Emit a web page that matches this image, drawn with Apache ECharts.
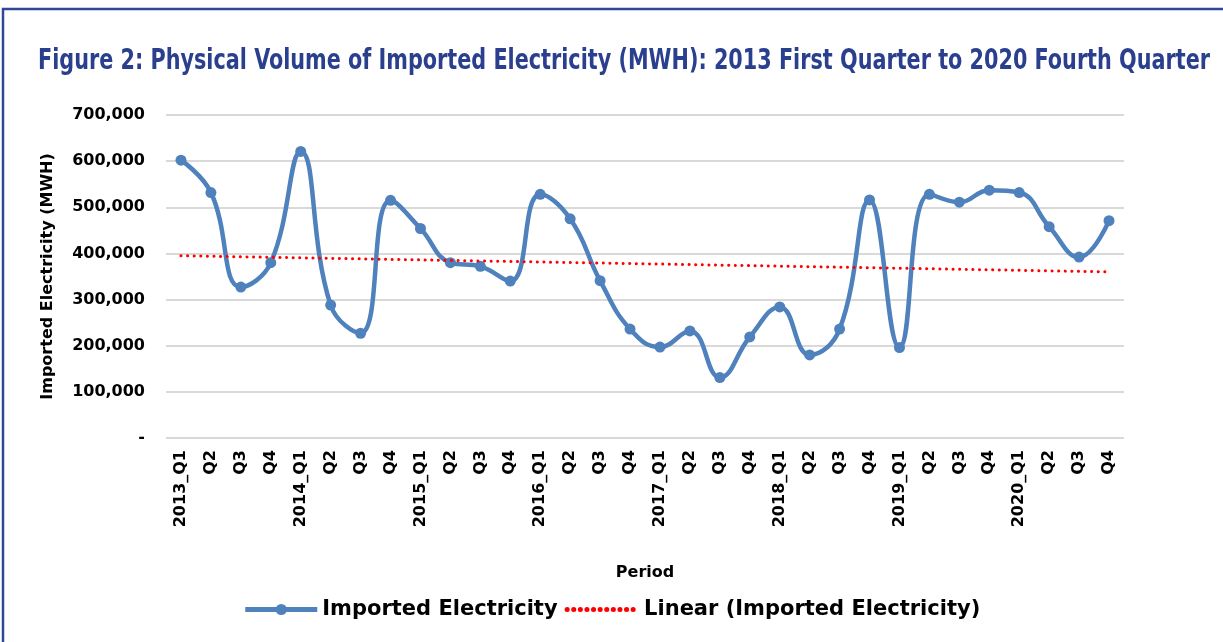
<!DOCTYPE html>
<html>
<head>
    <meta charset="utf-8">
    <script src="https://cdn.jsdelivr.net/npm/echarts@6/dist/echarts.min.js"></script>
</head>
<style>
    * {
        margin: 0;
        padding: 0;
    }
    .box {
        width: 1223px;
        height: 642px;
        background: #fff;
    }
</style>
<body>
    <div class="box"></div>
    <script type="text/javascript">
        // categories: quarters 2013 Q1 .. 2020 Q4
        var periods = ['2013_Q1', 'Q2', 'Q3', 'Q4', '2014_Q1', 'Q2', 'Q3', 'Q4',
            '2015_Q1', 'Q2', 'Q3', 'Q4', '2016_Q1', 'Q2', 'Q3', 'Q4',
            '2017_Q1', 'Q2', 'Q3', 'Q4', '2018_Q1', 'Q2', 'Q3', 'Q4',
            '2019_Q1', 'Q2', 'Q3', 'Q4', '2020_Q1', 'Q2', 'Q3', 'Q4'];

        // imported electricity (MWH)
        var imported = [602000, 532000, 327000, 380000, 621000, 288000, 227000, 515000,
            454000, 380000, 372000, 340000, 528000, 475000, 341000, 236000,
            197000, 232000, 131000, 219000, 284000, 180000, 236000, 516000,
            196000, 528000, 511000, 537000, 532000, 458000, 392000, 471000];

        // linear trend end points (first and last quarter)
        var trendEnds = [395000, 360000];

        var yTicks = [0, 100000, 200000, 300000, 400000, 500000, 600000, 700000];

        var trend = periods.map(function(p, i) {
            if (i == 0) return trendEnds[0];
            if (i == periods.length - 1) return trendEnds[1];
            return null;
        });

        var titleText = 'Figure 2: Physical Volume of Imported Electricity (MWH): 2013 First Quarter to 2020 Fourth Quarter';
        var titleFont = 'bold 29px "DejaVu Sans Condensed"';
        var ctx = document.createElement('canvas').getContext('2d');
        ctx.font = titleFont;
        var titleScale = 1172 / ctx.measureText(titleText).width;

        var blue = '#4F81BD';
        var labelFont = 'DejaVu Sans';

        var myChart = echarts.init(document.getElementsByClassName('box')[0]);

        var option = {
            animation: false,
            graphic: [{
                type: 'rect',
                shape: { x: 3, y: 9, width: 1240, height: 660 },
                style: { fill: null, stroke: '#2F4996', lineWidth: 2.5 },
                silent: true
            }, {
                type: 'text',
                x: 38,
                y: 61,
                scaleX: titleScale,
                style: {
                    text: titleText,
                    font: titleFont,
                    fill: '#2A3F8E',
                    textAlign: 'left',
                    textVerticalAlign: 'middle'
                }
            }],
            grid: {
                left: 166,
                right: 99,
                top: 115,
                bottom: 204
            },
            legend: {
                left: 'center',
                top: 594,
                itemWidth: 72,
                itemHeight: 14,
                itemGap: 7,
                lineStyle: { width: 5 },
                textStyle: {
                    fontFamily: labelFont,
                    fontSize: 21,
                    fontWeight: 'bold',
                    color: '#000'
                },
                data: ['Imported Electricity', 'Linear (Imported Electricity)']
            },
            xAxis: {
                type: 'category',
                data: periods,
                boundaryGap: true,
                name: 'Period',
                nameLocation: 'middle',
                nameGap: 127,
                nameTextStyle: {
                    fontFamily: labelFont,
                    fontSize: 16,
                    fontWeight: 'bold',
                    color: '#000'
                },
                axisLine: { show: false },
                axisTick: { show: false },
                axisLabel: {
                    interval: 0,
                    rotate: 90,
                    margin: 12,
                    fontFamily: labelFont,
                    fontSize: 16,
                    fontWeight: 'bold',
                    color: '#000'
                }
            },
            yAxis: {
                type: 'value',
                min: yTicks[0],
                max: yTicks[yTicks.length - 1],
                interval: 100000,
                name: 'Imported Electricity (MWH)',
                nameLocation: 'middle',
                nameRotate: 90,
                nameGap: 110,
                nameTextStyle: {
                    fontFamily: labelFont,
                    fontSize: 16,
                    fontWeight: 'bold',
                    color: '#000'
                },
                axisLine: { show: false },
                axisTick: { show: false },
                axisLabel: {
                    margin: 21,
                    fontFamily: labelFont,
                    fontSize: 16,
                    fontWeight: 'bold',
                    color: '#000',
                    formatter: function(v) {
                        if (v == 0) return '-';
                        return v.toLocaleString('en-US');
                    }
                },
                splitLine: {
                    lineStyle: { color: '#D9D9D9', width: 2 }
                }
            },
            series: [{
                name: 'Imported Electricity',
                type: 'line',
                data: imported,
                smooth: 0.45,
                symbol: 'circle',
                symbolSize: 11,
                itemStyle: { color: blue },
                lineStyle: { color: blue, width: 4.5 },
                z: 3
            }, {
                name: 'Linear (Imported Electricity)',
                type: 'line',
                data: trend,
                connectNulls: true,
                symbol: 'none',
                itemStyle: { color: '#FF0000', opacity: 0 },
                lineStyle: {
                    color: '#FF0000',
                    width: 3,
                    type: [0.1, 6.5],
                    cap: 'round'
                },
                z: 4
            }]
        };

        myChart.setOption(option);
    </script>
</body>
</html>
